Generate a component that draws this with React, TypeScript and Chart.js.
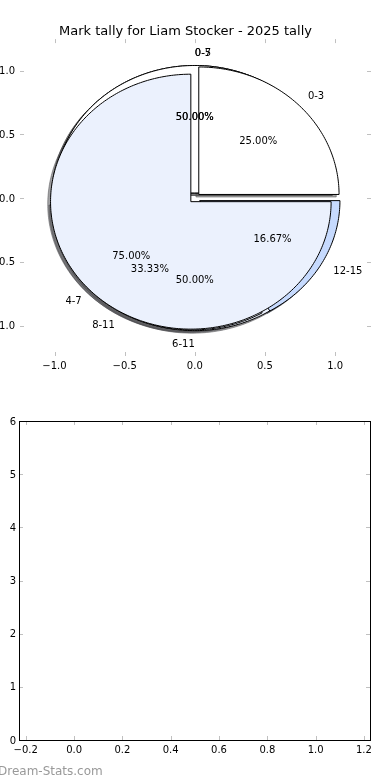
import React, { useEffect, useRef } from "react";
import { Chart, registerables } from "chart.js";

Chart.register(...registerables);

// ---- data ----
const titleText = "Mark tally for Liam Stocker - 2025 tally";
const pieBLabels = ["0-5", "6-11"];
const pieBValues = [1, 1];
const pieCLabels = ["0-7", "8-11", "12-15"];
const pieCValues = [3, 2, 1];
const pieALabels = ["0-3", "4-7"];
const pieAValues = [1, 3];
const sliceColors = ["#ffffff", "#ebf1fd", "#c6dafe"];
const pieExplode = 0.04;
const pieTicks = [-1, -0.5, 0, 0.5, 1];
const emptyXTicks = [-0.2, 0, 0.2, 0.4, 0.6, 0.8, 1.0, 1.2];
const emptyYTicks = [0, 1, 2, 3, 4, 5, 6];
const watermark = "Dream-Stats.com";

const pies = [
  { labels: pieBLabels, values: pieBValues },
  { labels: pieCLabels, values: pieCValues },
  { labels: pieALabels, values: pieAValues },
];

const FONT = '"DejaVu Sans", sans-serif';
const fmt1 = (v: any) => Number(v).toFixed(1).replace("-", "\u2212");

function hexToRgb(h: string) {
  const n = parseInt(h.slice(1), 16);
  return [(n >> 16) & 255, (n >> 8) & 255, n & 255];
}

const piePlugin = {
  id: "pies",
  afterDatasetsDraw(chart: any) {
    const ctx = chart.ctx;
    const xs = chart.scales.x;
    const ys = chart.scales.y;
    const px = (v: number) => xs.getPixelForValue(v);
    const py = (v: number) => ys.getPixelForValue(v);
    const wedges: any[] = [];
    const texts: any[] = [];
    pies.forEach((p) => {
      const total = p.values.reduce((a, b) => a + b, 0);
      let f1 = 0;
      p.values.forEach((v, i) => {
        const f2 = f1 + v / total;
        const tm = Math.PI * (f1 + f2);
        const cx = pieExplode * Math.cos(tm);
        const cy = pieExplode * Math.sin(tm);
        wedges.push({ cx, cy, t1: f1 * 2 * Math.PI, t2: f2 * 2 * Math.PI, color: sliceColors[i % sliceColors.length] });
        const xt = cx + 1.1 * Math.cos(tm);
        const yt = cy + 1.1 * Math.sin(tm);
        texts.push({ x: xt, y: yt, text: p.labels[i], align: xt > 0 ? "left" : "right" });
        texts.push({
          x: cx + 0.6 * Math.cos(tm),
          y: cy + 0.6 * Math.sin(tm),
          text: ((v / total) * 100).toFixed(2) + "%",
          align: "center",
        });
        f1 = f2;
      });
    });
    const path = (w: any, ox: number, oy: number) => {
      ctx.beginPath();
      ctx.moveTo(px(w.cx + ox), py(w.cy + oy));
      const n = Math.max(4, Math.ceil(((w.t2 - w.t1) * 180) / Math.PI));
      for (let k = 0; k <= n; k++) {
        const t = w.t1 + ((w.t2 - w.t1) * k) / n;
        ctx.lineTo(px(w.cx + ox + Math.cos(t)), py(w.cy + oy + Math.sin(t)));
      }
      ctx.closePath();
    };
    ctx.save();
    ctx.lineJoin = "miter";
    ctx.lineWidth = 1;
    // shadows (below all wedges)
    wedges.forEach((w) => {
      const [r, g, b] = hexToRgb(w.color).map((c) => Math.round(c * 0.3));
      const col = `rgba(${r},${g},${b},0.5)`;
      path(w, -0.02, -0.02);
      ctx.fillStyle = col;
      ctx.fill();
      ctx.strokeStyle = col;
      ctx.stroke();
    });
    wedges.forEach((w) => {
      path(w, 0, 0);
      ctx.fillStyle = w.color;
      ctx.fill();
      ctx.strokeStyle = "#000";
      ctx.stroke();
    });
    ctx.font = `10px ${FONT}`;
    ctx.fillStyle = "#000";
    ctx.textBaseline = "middle";
    texts.forEach((t) => {
      ctx.textAlign = t.align;
      ctx.fillText(t.text, px(t.x), py(t.y) + 1);
    });
    ctx.restore();
  },
};

const makeTickPlugin = (frame: boolean) => ({
  id: "innerTicks",
  afterDraw(chart: any) {
    const ctx = chart.ctx;
    const a = chart.chartArea;
    const xs = chart.scales.x;
    const ys = chart.scales.y;
    ctx.save();
    ctx.strokeStyle = "#c0c0c0";
    ctx.lineWidth = 1;
    const L = 4;
    xs.ticks.forEach((t: any) => {
      const x = Math.round(xs.getPixelForValue(t.value)) + 0.5;
      ctx.beginPath();
      ctx.moveTo(x, a.bottom);
      ctx.lineTo(x, a.bottom - L);
      ctx.moveTo(x, a.top);
      ctx.lineTo(x, a.top + L);
      ctx.stroke();
    });
    ys.ticks.forEach((t: any) => {
      const y = Math.round(ys.getPixelForValue(t.value)) + 0.5;
      ctx.beginPath();
      ctx.moveTo(a.left, y);
      ctx.lineTo(a.left + L, y);
      ctx.moveTo(a.right, y);
      ctx.lineTo(a.right - L, y);
      ctx.stroke();
    });
    if (frame) {
      ctx.strokeStyle = "#000";
      ctx.lineWidth = 1;
      ctx.strokeRect(Math.round(a.left) + 0.5, Math.round(a.top) + 0.5, Math.round(a.right - a.left), Math.round(a.bottom - a.top));
    }
    ctx.restore();
  },
});

const tickFont = { family: FONT, size: 10, weight: "normal" as const };

export default function App() {
  const topRef = useRef<HTMLCanvasElement>(null);
  const botRef = useRef<HTMLCanvasElement>(null);

  useEffect(() => {
    const top = new Chart(topRef.current!, {
      type: "scatter",
      data: { datasets: [] },
      options: {
        animation: false,
        responsive: false,
        devicePixelRatio: 1,
        layout: { padding: { left: 0, right: 19, top: 0, bottom: 0 } },
        plugins: {
          legend: { display: false },
          tooltip: { enabled: false },
          title: {
            display: true,
            text: titleText,
            color: "#000",
            font: { family: FONT, size: 13, weight: "normal" },
            padding: { top: 23.5, bottom: 0 },
          },
        },
        scales: {
          x: {
            type: "linear",
            min: -1.246,
            max: 1.256,
            afterBuildTicks: (s: any) => {
              s.ticks = pieTicks.map((v) => ({ value: v }));
            },
            afterFit: (s: any) => {
              s.height = 34;
            },
            grid: { display: false, drawTicks: false },
            border: { display: false },
            ticks: { padding: 4, color: "#000", font: tickFont, callback: fmt1, maxRotation: 0, autoSkip: false },
          },
          y: {
            type: "linear",
            min: -1.239,
            max: 1.247,
            afterBuildTicks: (s: any) => {
              s.ticks = pieTicks.map((v) => ({ value: v }));
            },
            afterFit: (s: any) => {
              s.width = 20;
            },
            grid: { display: false, drawTicks: false },
            border: { display: false },
            ticks: { padding: 5, labelOffset: 1, color: "#000", font: tickFont, callback: fmt1, autoSkip: false },
          },
        },
      } as any,
      plugins: [piePlugin, makeTickPlugin(false)],
    });

    const bot = new Chart(botRef.current!, {
      type: "scatter",
      data: { datasets: [] },
      options: {
        animation: false,
        responsive: false,
        devicePixelRatio: 1,
        layout: { padding: { left: 0, right: 20, top: 31, bottom: 0 } },
        plugins: { legend: { display: false }, tooltip: { enabled: false }, title: { display: false } },
        scales: {
          x: {
            type: "linear",
            min: -0.228,
            max: 1.225,
            afterBuildTicks: (s: any) => {
              s.ticks = emptyXTicks.map((v) => ({ value: v }));
            },
            afterFit: (s: any) => {
              s.height = 40;
            },
            grid: { display: false, drawTicks: false },
            border: { display: false },
            ticks: { padding: 4, color: "#000", font: tickFont, callback: fmt1, maxRotation: 0, autoSkip: false },
          },
          y: {
            type: "linear",
            min: 0,
            max: 6,
            afterBuildTicks: (s: any) => {
              s.ticks = emptyYTicks.map((v) => ({ value: v }));
            },
            afterFit: (s: any) => {
              s.width = 19;
            },
            grid: { display: false, drawTicks: false },
            border: { display: false },
            ticks: { padding: 3, labelOffset: 1, color: "#000", font: tickFont, callback: (v: any) => String(v), autoSkip: false },
          },
        },
      } as any,
      plugins: [makeTickPlugin(true)],
    });

    return () => {
      top.destroy();
      bot.destroy();
    };
  }, []);

  return (
    <div style={{ position: "fixed", left: 0, top: 0, width: 390, height: 780, background: "#fff", overflow: "hidden" }}>
      <canvas ref={topRef} width={390} height={390} style={{ position: "absolute", left: 0, top: 0, width: 390, height: 390 }} />
      <canvas ref={botRef} width={390} height={390} style={{ position: "absolute", left: 0, top: 390, width: 390, height: 390 }} />
      <div
        style={{
          position: "absolute",
          left: -2,
          top: 763,
          font: `12px ${FONT}`,
          lineHeight: "16px",
          color: "#999",
          whiteSpace: "nowrap",
        }}
      >
        {watermark}
      </div>
    </div>
  );
}
